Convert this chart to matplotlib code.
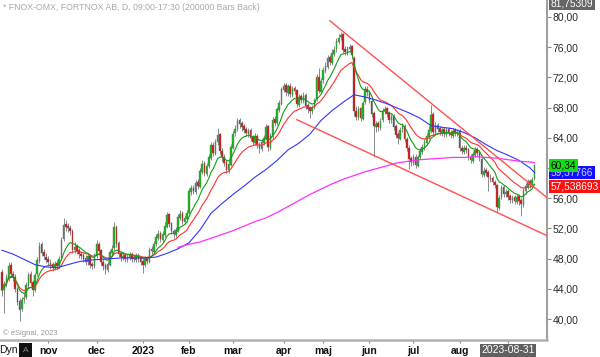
import matplotlib
matplotlib.use('Agg')
import matplotlib.pyplot as plt
import matplotlib.transforms as mtransforms
from matplotlib.patches import Rectangle
import numpy as np
import pandas as pd

plt.rcParams['font.family'] = ['Liberation Sans', 'DejaVu Sans']

# trading days on the chart (Stockholm holidays removed)
holidays = ['2022-12-26', '2023-01-06', '2023-04-07', '2023-04-10',
            '2023-05-01', '2023-05-18', '2023-06-06', '2023-06-23']
dates = pd.bdate_range('2022-10-03', '2023-09-18')
dates = dates[~dates.isin(pd.to_datetime(holidays))]

opens = [46.2, 43.9, 44.5, 45.4, 47.2, 46.0, 45.6, 44.0, 42.4, 41.3,
         42.6, 42.9, 44.4, 45.9, 44.9, 43.9, 45.9, 47.7, 49.9, 48.9,
         48.2, 47.9, 47.4, 47.3, 46.8, 47.4, 47.0, 48.1, 50.6, 52.6,
         52.3, 52.0, 51.7, 49.1, 49.7, 49.1, 48.6, 48.5, 48.1, 47.5,
         48.4, 47.3, 47.0, 48.3, 50.0, 49.1, 47.6, 47.1, 46.5, 47.2,
         48.8, 49.4, 52.2, 50.1, 48.7, 48.1, 48.5, 47.8, 48.1, 48.6,
         48.1, 47.8, 48.4, 48.1, 47.7, 47.1, 48.1, 47.6, 49.3, 48.9,
         50.0, 50.7, 51.4, 50.5, 51.1, 52.2, 53.9, 52.7, 51.7, 51.1,
         51.7, 53.4, 54.0, 52.9, 53.3, 54.1, 56.8, 57.4, 56.8, 58.1,
         57.5, 59.5, 60.6, 59.2, 60.3, 61.3, 63.1, 61.9, 63.4, 64.5,
         62.3, 61.5, 60.8, 59.7, 60.4, 62.7, 64.6, 65.1, 66.3, 65.9,
         65.5, 65.1, 64.5, 65.0, 64.1, 63.3, 64.3, 63.1, 62.5, 63.3,
         63.9, 65.5, 62.7, 64.1, 66.5, 65.9, 67.7, 68.5, 70.3, 71.0,
         69.9, 70.9, 69.7, 70.6, 70.3, 68.4, 69.5, 68.9, 69.7, 68.3,
         67.9, 67.5, 68.1, 69.1, 72.1, 70.1, 71.6, 72.9, 73.4, 74.7,
         73.9, 75.1, 75.7, 76.7, 77.3, 77.7, 75.7, 75.3, 75.7, 76.1,
         74.6, 67.6, 66.7, 67.9, 66.5, 68.7, 70.5, 70.1, 68.9, 67.3,
         65.4, 65.9, 65.3, 66.3, 67.5, 67.9, 67.3, 66.3, 66.9, 65.5,
         64.5, 63.9, 65.1, 65.5, 63.9, 62.7, 61.3, 60.7, 61.5, 60.3,
         61.5, 62.1, 62.7, 63.3, 64.1, 64.9, 67.1, 64.7, 65.7, 65.3,
         64.7, 65.1, 64.4, 65.1, 64.7, 64.3, 65.0, 64.5, 64.9, 62.7,
         62.1, 62.7, 62.5, 61.5, 60.9, 61.7, 62.5, 62.1, 61.2, 59.1,
         59.7, 59.5, 58.7, 58.7, 58.1, 57.7, 54.7, 56.1, 57.5, 56.5,
         56.9, 56.3, 55.7, 56.1, 55.5, 56.3, 55.7, 55.1, 56.9, 57.5,
         58.3, 57.7, 58.6]

highs = [46.6, 45.0, 45.9, 47.5, 47.6, 46.4, 45.9, 44.3, 42.8, 42.9,
         43.5, 44.9, 46.2, 46.3, 45.2, 46.1, 48.2, 50.2, 50.2, 49.3,
         48.7, 48.3, 47.9, 47.6, 47.7, 47.8, 48.4, 50.8, 53.4, 53.1,
         52.7, 52.4, 51.9, 50.2, 50.0, 49.4, 49.0, 48.8, 48.5, 48.7,
         48.6, 47.6, 48.7, 50.4, 50.2, 49.3, 47.9, 47.4, 47.7, 49.2,
         49.8, 52.8, 52.5, 50.3, 49.0, 48.8, 48.8, 48.6, 48.9, 48.9,
         48.5, 48.7, 48.8, 48.4, 48.0, 48.3, 48.4, 49.5, 49.7, 50.3,
         51.3, 51.8, 51.7, 51.6, 52.8, 54.2, 54.1, 52.9, 51.9, 52.2,
         53.9, 54.4, 54.3, 53.8, 54.5, 57.3, 57.8, 57.8, 58.4, 58.5,
         60.0, 61.0, 60.9, 60.7, 61.9, 63.5, 63.4, 63.9, 65.3, 64.7,
         62.6, 61.8, 61.0, 61.0, 63.2, 64.9, 65.7, 66.6, 66.6, 66.2,
         65.8, 65.4, 65.3, 65.3, 64.4, 64.6, 64.5, 63.4, 63.8, 64.4,
         65.8, 65.7, 64.6, 66.8, 66.9, 68.1, 69.0, 70.7, 71.3, 71.3,
         71.1, 71.2, 70.9, 70.9, 70.5, 69.8, 69.8, 70.0, 69.9, 68.6,
         68.2, 68.4, 69.3, 72.4, 73.2, 71.9, 73.4, 74.0, 75.0, 75.0,
         75.7, 76.1, 77.2, 77.8, 78.0, 77.9, 76.1, 76.2, 76.4, 76.3,
         74.8, 68.2, 68.2, 68.1, 68.9, 70.8, 70.9, 70.3, 69.1, 67.5,
         66.2, 66.2, 66.6, 68.0, 68.2, 68.1, 67.6, 67.2, 67.1, 65.8,
         64.8, 65.4, 66.0, 65.8, 64.1, 63.0, 61.6, 61.8, 61.8, 61.7,
         62.6, 63.2, 63.8, 64.6, 65.5, 68.3, 67.4, 66.1, 66.0, 65.6,
         65.4, 65.4, 65.4, 65.4, 65.0, 65.3, 65.3, 65.2, 65.1, 63.0,
         63.0, 63.0, 62.7, 61.8, 62.2, 62.8, 62.8, 62.4, 61.4, 60.1,
         60.0, 59.8, 59.2, 59.0, 58.4, 57.9, 56.4, 57.8, 57.8, 57.2,
         57.2, 56.6, 56.4, 56.4, 56.6, 56.6, 56.0, 57.3, 58.0, 58.6,
         58.6, 58.8, 60.5]

lows = [43.0, 40.8, 44.2, 45.1, 45.6, 45.0, 43.6, 41.8, 39.8, 41.0,
        42.1, 42.6, 44.1, 44.4, 43.0, 43.6, 45.7, 47.4, 48.4, 47.9,
        47.4, 47.0, 46.6, 46.3, 46.5, 46.6, 46.8, 47.9, 50.3, 51.7,
        51.5, 51.1, 48.7, 48.8, 48.6, 48.1, 47.9, 47.5, 47.1, 47.2,
        46.8, 46.6, 46.8, 48.1, 48.6, 47.1, 46.5, 46.0, 46.2, 47.0,
        48.5, 49.2, 49.5, 48.2, 47.7, 47.8, 47.5, 47.5, 47.8, 47.6,
        47.5, 47.5, 47.6, 47.1, 46.1, 46.9, 47.3, 47.4, 48.6, 48.7,
        49.7, 50.4, 50.2, 50.2, 50.9, 52.0, 52.2, 51.2, 50.7, 50.8,
        51.5, 53.1, 52.6, 52.6, 53.0, 53.9, 56.4, 56.5, 56.6, 57.2,
        57.3, 59.2, 58.9, 58.9, 60.0, 61.0, 61.6, 61.7, 63.1, 61.8,
        60.9, 60.3, 59.4, 59.4, 60.2, 62.5, 64.2, 64.9, 65.3, 64.9,
        64.6, 64.2, 64.1, 63.6, 63.0, 63.0, 62.6, 62.0, 62.3, 63.0,
        63.7, 62.3, 62.4, 63.9, 65.6, 65.7, 67.4, 68.3, 70.0, 69.6,
        69.6, 69.4, 69.4, 69.8, 68.1, 68.1, 68.6, 68.6, 67.8, 67.3,
        66.6, 67.1, 67.8, 68.9, 69.9, 69.9, 71.3, 72.6, 73.1, 73.6,
        73.6, 74.8, 75.4, 76.4, 76.9, 75.2, 75.0, 74.9, 75.3, 74.6,
        66.9, 66.3, 66.4, 66.2, 66.3, 68.5, 69.6, 68.6, 66.8, 61.5,
        64.8, 64.9, 65.0, 66.1, 67.2, 66.8, 66.0, 66.0, 65.0, 64.0,
        63.2, 63.7, 64.8, 63.4, 62.2, 59.9, 60.3, 60.4, 60.0, 60.1,
        61.2, 61.9, 62.4, 63.0, 63.9, 64.7, 64.4, 64.4, 64.8, 64.4,
        64.3, 64.1, 64.1, 64.2, 64.0, 64.0, 64.2, 64.2, 62.2, 61.8,
        61.8, 62.0, 61.0, 60.6, 60.7, 61.5, 61.6, 60.9, 58.8, 58.8,
        59.0, 57.0, 58.1, 57.8, 57.3, 54.2, 54.4, 55.9, 56.2, 56.1,
        55.8, 55.4, 55.3, 55.2, 55.2, 55.1, 53.6, 54.9, 56.6, 57.2,
        57.4, 57.4, 58.4]

closes = [43.8, 44.6, 45.5, 47.0, 46.0, 45.5, 44.0, 42.3, 41.2, 42.5,
          42.8, 44.5, 45.8, 44.8, 43.8, 45.8, 47.8, 49.7, 48.8, 48.3,
          47.8, 47.5, 47.2, 46.8, 47.3, 47.0, 48.0, 50.5, 52.5, 52.2,
          52.0, 51.6, 49.2, 49.6, 49.0, 48.6, 48.4, 48.0, 47.6, 48.3,
          47.2, 47.0, 48.4, 49.9, 49.0, 47.5, 47.0, 46.6, 47.3, 48.9,
          49.3, 52.2, 50.0, 48.6, 48.2, 48.4, 47.9, 48.2, 48.5, 48.0,
          47.9, 48.3, 48.0, 47.6, 47.2, 48.0, 47.7, 49.2, 49.0, 49.9,
          50.8, 51.3, 50.6, 51.2, 52.3, 53.8, 52.6, 51.6, 51.2, 51.8,
          53.5, 53.9, 53.0, 53.4, 54.0, 56.9, 57.3, 56.9, 58.0, 57.6,
          59.6, 60.5, 59.3, 60.2, 61.4, 63.0, 62.0, 63.5, 64.4, 62.2,
          61.4, 60.7, 59.8, 60.5, 62.8, 64.5, 65.2, 66.2, 65.8, 65.4,
          65.0, 64.6, 64.9, 64.0, 63.4, 64.2, 63.0, 62.6, 63.4, 64.0,
          65.4, 62.8, 64.2, 66.4, 66.0, 67.8, 68.6, 70.4, 70.9, 70.0,
          70.8, 69.8, 70.5, 70.2, 68.5, 69.4, 69.0, 69.6, 68.2, 67.8,
          67.6, 68.0, 69.0, 72.0, 70.2, 71.5, 73.0, 73.5, 74.6, 74.0,
          75.2, 75.6, 76.8, 77.2, 77.6, 75.6, 75.4, 75.8, 76.0, 75.0,
          67.5, 66.8, 67.8, 66.6, 68.6, 70.4, 70.0, 69.0, 67.2, 65.5,
          65.8, 65.4, 66.2, 67.6, 67.8, 67.2, 66.4, 66.8, 65.4, 64.4,
          64.0, 65.0, 65.6, 63.8, 62.6, 61.2, 60.8, 61.4, 60.4, 61.4,
          62.2, 62.8, 63.4, 64.2, 65.0, 67.0, 64.8, 65.6, 65.2, 64.8,
          65.0, 64.5, 65.0, 64.6, 64.4, 64.9, 64.6, 64.8, 62.6, 62.2,
          62.6, 62.4, 61.4, 61.0, 61.8, 62.4, 62.0, 61.3, 59.2, 59.6,
          59.4, 58.8, 58.6, 58.2, 57.8, 54.8, 56.0, 57.4, 56.6, 56.8,
          56.2, 55.8, 56.0, 55.6, 56.2, 55.6, 55.2, 57.0, 57.6, 58.2,
          57.8, 58.4, 60.34]

# longer moving averages (they need history before the window)
ma_days = list(range(0, 241, 5)) + [242]
ma_blue = [49.1, 48.6, 47.9, 47.2, 46.9, 46.8, 47.2, 47.6, 47.8, 47.9,
           48.0, 48.1, 48.1, 48.1, 48.2, 48.7, 49.3, 50.1, 51.8, 54.0,
           55.3, 56.5, 57.6, 58.8, 59.8, 61.0, 62.4, 63.3, 64.5, 66.3,
           67.6, 68.7, 69.7, 69.4, 69.0, 68.5, 67.9, 67.3, 66.6, 65.6,
           65.4, 65.2, 64.7, 64.0, 63.1, 62.3, 61.7, 61.0, 60.0, 59.4]
ma_pink = [None] * 16 + [49.5, 49.9, 50.2, 50.7, 51.2, 51.7, 52.3, 52.9, 53.4, 54.1,
                         54.9, 55.7, 56.5, 57.2, 57.9, 58.5, 59.0, 59.5, 59.9, 60.3,
                         60.7, 60.9, 61.1, 61.2, 61.3, 61.4, 61.4, 61.5, 61.4, 61.3,
                         61.1, 60.9, 60.8, 60.7]

# channel trend lines (bar index, price)
upper_days = [149, 248]
upper_px = [79.5, 56.0]
lower_days = [134, 248]
lower_px = [66.4, 51.0]

month_labels = ['nov', 'dec', '2023', 'feb', 'mar', 'apr', 'maj', 'jun', 'jul', 'aug']

o = np.array(opens)
h = np.array(highs)
l = np.array(lows)
c = np.array(closes)
x = np.arange(len(c))

fig = plt.figure(figsize=(6, 3.57), dpi=100)
ax = fig.add_axes([0, 17 / 357, 547 / 600, 340 / 357])

# candles
up = c >= o
ax.vlines(x, l, h, color='#8a8a8a', lw=0.7, zorder=2)
ax.bar(x, np.maximum(np.abs(c - o), 0.08), bottom=np.minimum(o, c), width=0.72,
       color=np.where(up, '#10c010', '#e01010'), edgecolor='#6a6a6a',
       linewidth=0.3, zorder=3)

# moving averages (short ones from the closes)
s = pd.Series(c)
ax.plot(x, s.ewm(span=20).mean(), color='#ff3030', lw=0.8, zorder=4)
ax.plot(x, s.ewm(span=10).mean(), color='#10a010', lw=0.8, zorder=4)
ax.plot(ma_days, ma_blue, color='#3434ff', lw=0.8, zorder=4)
ax.plot(ma_days, np.array(ma_pink, dtype=float), color='#ff30ff', lw=0.9, zorder=4)

# trend channel
ax.plot(upper_days, upper_px, color='#ff5050', lw=1.0, zorder=5)
ax.plot(lower_days, lower_px, color='#ff5050', lw=1.0, zorder=5)

ax.set_xlim(-0.9, 247.7)
ax.set_ylim(37.22, 82.25)

for side in ['top', 'left']:
    ax.spines[side].set_visible(False)
ax.spines['right'].set_color('#a0a0a0')
ax.spines['right'].set_linewidth(1.5)
ax.spines['bottom'].set_color('#b0b0b0')
ax.spines['bottom'].set_linewidth(1.8)

# price axis
ax.yaxis.tick_right()
yt = np.arange(40, 81, 4)
ax.set_yticks(yt)
ax.set_yticklabels([f'{v:.2f}'.replace('.', ',') for v in yt])
ax.tick_params(axis='y', length=3, width=0.8, color='#888888', labelsize=7.5,
               labelcolor='#2a2a2a', pad=1)

# date axis
months = dates.to_period('M')
month_pos = [int(np.argmax(months == p)) for p in pd.period_range('2022-11', '2023-08', freq='M')]
cursor = int(np.argmax(dates == pd.Timestamp('2023-08-31')))
ax.set_xticks(month_pos + [cursor])
ax.set_xticklabels(month_labels + [''])
ax.tick_params(axis='x', length=2, width=0.8, color='#888888', labelsize=7.5,
               labelcolor='#111111', pad=2)
for t in ax.get_xticklabels():
    t.set_fontweight('bold')

trans_x = mtransforms.blended_transform_factory(ax.transData, ax.transAxes)
ax.text(cursor, -0.03, '2023-08-31', transform=trans_x, ha='center', va='center',
        fontsize=7.5, color='white', clip_on=False,
        bbox=dict(boxstyle='square,pad=0.15', fc='#606060', ec='none'))

# price tags on the right
trans_y = mtransforms.blended_transform_factory(ax.transAxes, ax.transData)
tags = [(81.75309, '81,75309', '#666666', 'white'),
        (57.538693, '57,538693', '#ff1010', 'white'),
        (59.37766, '59,37766', '#1010ff', '#d0d0ff'),
        (60.34, '60,34', '#10e010', 'black')]
for i, (val, txt, bg, fg) in enumerate(tags):
    ax.text(1.007, val, txt, transform=trans_y, ha='left', va='center',
            fontsize=7.3, color=fg, clip_on=False, zorder=10 + i,
            bbox=dict(boxstyle='square,pad=0.15', fc=bg, ec='none'))

# header / footer texts
fig.text(3 / 600, 1 - 7 / 357, '* FNOX-OMX, FORTNOX AB, D, 09:00-17:30 (200000 Bars Back)',
         fontsize=6.3, color='#a8a8a8', va='center')
fig.text(3 / 600, 1 - 333 / 357, '\u00a9 eSignal, 2023', fontsize=5.5, color='#999999', va='center')
fig.text(-1 / 600, 1 - 350 / 357, 'Dyn', fontsize=7.5, color='#111111', va='center')
fig.patches.append(Rectangle((19 / 600, 1 - 357 / 357), 13 / 600, 14 / 357,
                             transform=fig.transFigure, fc='#111111', ec='none'))
fig.text(25.5 / 600, 1 - 350 / 357, 'A', fontsize=6, color='#888888', ha='center', va='center')

fig.savefig('out.png', dpi=100)
